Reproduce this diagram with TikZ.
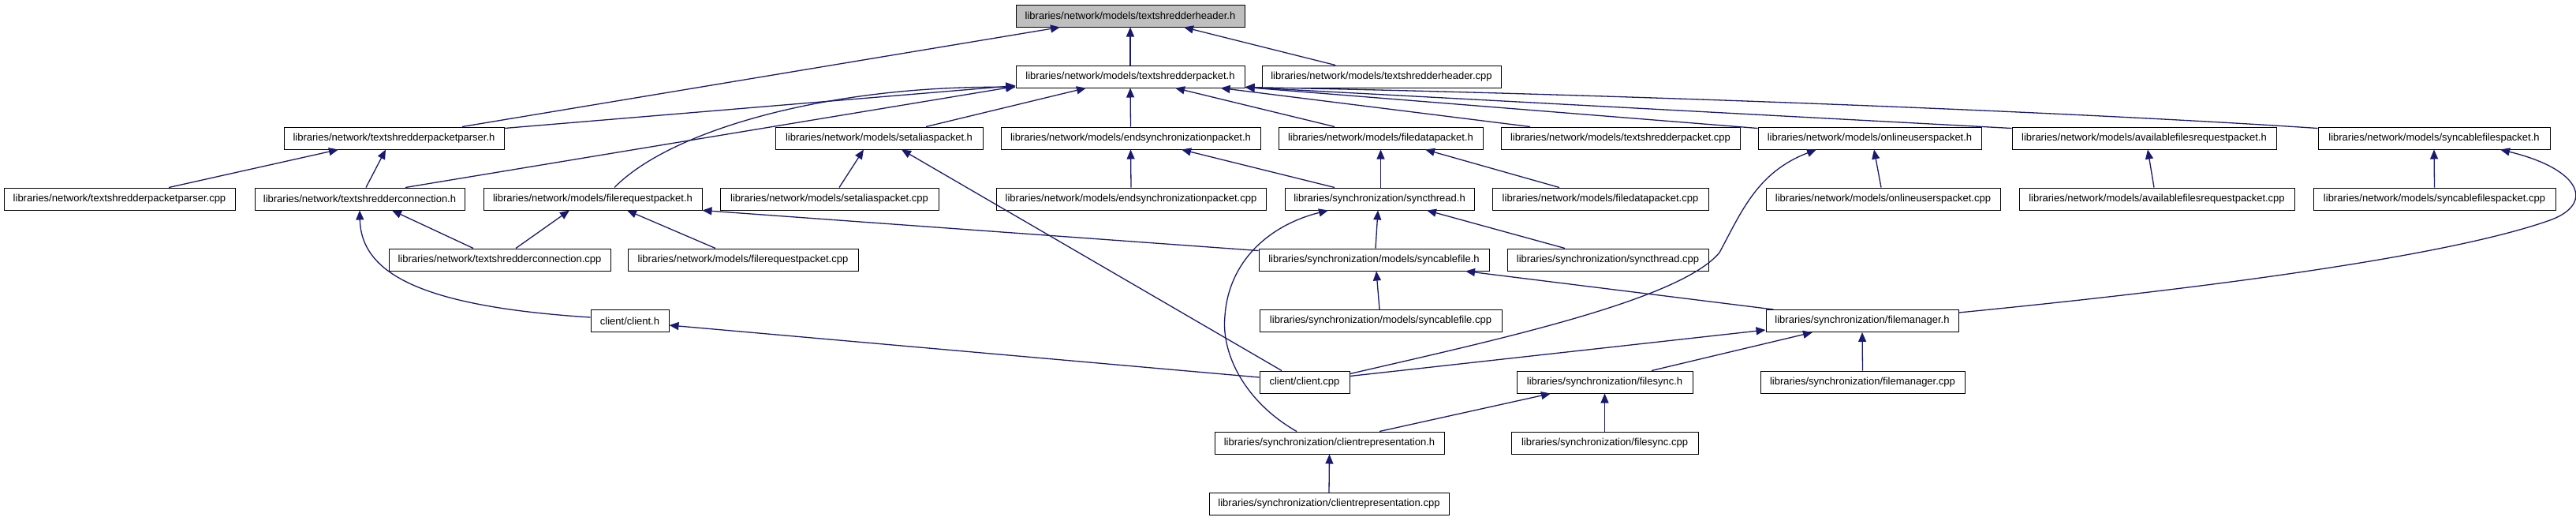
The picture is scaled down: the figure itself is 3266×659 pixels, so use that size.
\documentclass[tikz,border=0pt]{standalone}
\usepackage{fontspec}
\setmainfont{Liberation Sans}
\usetikzlibrary{arrows.meta,calc}
\definecolor{edgeblue}{RGB}{25,25,112}
\definecolor{hdrgray}{RGB}{191,191,191}
\begin{document}
\begin{tikzpicture}[x={(0.5pt,0)},y={(0,-0.5pt)},
  box/.style={draw=black,line width=0.5pt,fill=white,rectangle,inner sep=0pt,minimum height=14pt,
    font=\fontsize{6.5}{8}\selectfont},
  dep/.style={draw=edgeblue,line width=0.65pt,-{Triangle[length=6pt,width=5pt]}}]
\useasboundingbox (0,0) rectangle (3266,659);
% row 0
\node[box,fill=hdrgray,minimum width=145pt] (hdr) at (1433,20) {libraries/network/models/textshredderheader.h};
% row 1
\node[box,minimum width=145pt] (pkt) at (1433,97) {libraries/network/models/textshredderpacket.h};
\node[box,minimum width=151.5pt] (hcpp) at (1751.5,97) {libraries/network/models/textshredderheader.cpp};
% row 2
\node[box,minimum width=139.5pt] (parser) at (499.5,175) {libraries/network/textshredderpacketparser.h};
\node[box,minimum width=131.5pt] (setalias) at (1114.5,175) {libraries/network/models/setaliaspacket.h};
\node[box,minimum width=164.5pt] (endsync) at (1433.5,175) {libraries/network/models/endsynchronizationpacket.h};
\node[box,minimum width=129.5pt] (filedata) at (1750.5,175) {libraries/network/models/filedatapacket.h};
\node[box,minimum width=151.5pt] (pktcpp) at (2054.5,175) {libraries/network/models/textshredderpacket.cpp};
\node[box,minimum width=141.5pt] (online) at (2370.5,175) {libraries/network/models/onlineuserspacket.h};
\node[box,minimum width=167.5pt] (avail) at (2718.5,175) {libraries/network/models/availablefilesrequestpacket.h};
\node[box,minimum width=147pt] (syncpk) at (3086,175) {libraries/network/models/syncablefilespacket.h};
% row 3
\node[box,minimum width=146.5pt] (parsercpp) at (151.5,252) {libraries/network/textshredderpacketparser.cpp};
\node[box,minimum width=133pt] (conn) at (456,252) {libraries/network/textshredderconnection.h};
\node[box,minimum width=138.5pt] (filereq) at (751.5,252) {libraries/network/models/filerequestpacket.h};
\node[box,minimum width=138.5pt] (setaliascpp) at (1051.5,252) {libraries/network/models/setaliaspacket.cpp};
\node[box,minimum width=171pt] (endsynccpp) at (1434,252) {libraries/network/models/endsynchronizationpacket.cpp};
\node[box,minimum width=120pt] (syncthread) at (1749,252) {libraries/synchronization/syncthread.h};
\node[box,minimum width=137pt] (filedatacpp) at (2029,252) {libraries/network/models/filedatapacket.cpp};
\node[box,minimum width=148.5pt] (onlinecpp) at (2387.5,252) {libraries/network/models/onlineuserspacket.cpp};
\node[box,minimum width=174.5pt] (availcpp) at (2734.5,252) {libraries/network/models/availablefilesrequestpacket.cpp};
\node[box,minimum width=153.5pt] (syncpkcpp) at (3086.5,252) {libraries/network/models/syncablefilespacket.cpp};
% row 4
\node[box,minimum width=140.5pt] (conncpp) at (633.5,329) {libraries/network/textshredderconnection.cpp};
\node[box,minimum width=146pt] (filereqcpp) at (942,329) {libraries/network/models/filerequestpacket.cpp};
\node[box,minimum width=146pt] (syncablefile) at (1742,329) {libraries/synchronization/models/syncablefile.h};
\node[box,minimum width=127.5pt] (syncthreadcpp) at (2038.5,329) {libraries/synchronization/syncthread.cpp};
% row 5
\node[box,minimum width=49.5pt] (clienth) at (798.5,406.5) {client/client.h};
\node[box,minimum width=153.5pt] (syncablefilecpp) at (1750.5,406.5) {libraries/synchronization/models/syncablefile.cpp};
\node[box,minimum width=122pt] (filemanager) at (2361,406.5) {libraries/synchronization/filemanager.h};
% row 6
\node[box,minimum width=57pt] (clientcpp) at (1654,484) {client/client.cpp};
\node[box,minimum width=111.5pt] (filesync) at (2034.5,484) {libraries/synchronization/filesync.h};
\node[box,minimum width=129.5pt] (filemanagercpp) at (2361.5,484) {libraries/synchronization/filemanager.cpp};
% row 7
\node[box,minimum width=145.5pt] (clientrep) at (1685.5,561) {libraries/synchronization/clientrepresentation.h};
\node[box,minimum width=118.5pt] (filesynccpp) at (2034.5,561) {libraries/synchronization/filesync.cpp};
% row 8
\node[box,minimum width=152pt] (clientrepcpp) at (1685,638.5) {libraries/synchronization/clientrepresentation.cpp};

% edges to textshredderheader.h
\draw[dep] ($(parser.north)+(86.5,0)$) -- ($(hdr.south)+(-89,0)$);
\draw[dep] (pkt.north) -- (hdr.south);
\draw[dep] ($(hcpp.north)+(-58.5,0)$) -- ($(hdr.south)+(68,0)$);
% edges to textshredderpacket.h
\draw[dep] ($(parser.north east)+(0,2)$) -- ($(pkt.south west)+(0,-3)$);
\draw[dep] ($(conn.north)+(58,0)$) -- ($(pkt.south west)+(0,-2)$);
\draw[dep] ($(filereq.north)+(27.5,0)$) .. controls (850,165) and (1050,108) .. ($(pkt.south west)+(0,-1)$);
\draw[dep] ($(setalias.north)+(59.5,0)$) -- ($(pkt.south)+(-56,0)$);
\draw[dep] (endsync.north) -- (pkt.south);
\draw[dep] ($(filedata.north)+(-58.5,0)$) -- ($(pkt.south)+(57,0)$);
\draw[dep] ($(pktcpp.north)+(-114.5,0)$) -- ($(pkt.south east)+(-31,0)$);
\draw[dep] ($(online.north west)+(0,2)$) -- ($(pkt.south east)+(0,-1)$);
\draw[dep] ($(avail.north west)+(0,2)$) -- ($(pkt.south east)+(0,-1)$);
\draw[dep] ($(syncpk.north west)+(0,2)$) .. controls (2600,140) and (2000,118) .. ($(pkt.south east)+(0,-1)$);
% parser
\draw[dep] ($(parsercpp.north)+(62.5,0)$) -- ($(parser.south)+(-70.5,0)$);
\draw[dep] ($(conn.north)+(8,0)$) -- ($(parser.south)+(-10.5,0)$);
% connection
\draw[dep] ($(conncpp.north)+(-33.5,0)$) -- ($(conn.south)+(41,0)$);
\draw[dep] ($(clienth.west)+(0,-4.5)$) .. controls (530,388) and (458,345) .. (conn.south);
% filerequestpacket
\draw[dep] ($(conncpp.north)+(20.5,0)$) -- ($(filereq.south)+(-29.5,0)$);
\draw[dep] ($(filereqcpp.north)+(-35,0)$) -- ($(filereq.south)+(43.5,0)$);
\draw[dep] ($(syncablefile.north west)+(0,3)$) -- (filereq.south east);
% setaliaspacket
\draw[dep] ($(setaliascpp.north)+(12.5,0)$) -- ($(setalias.south)+(-19.5,0)$);
\draw[dep] ($(clientcpp.north)+(-29,0)$) -- ($(setalias.south)+(28.5,0)$);
% endsynchronizationpacket
\draw[dep] (endsynccpp.north) -- (endsync.south);
\draw[dep] ($(syncthread.north)+(-57,0)$) -- ($(endsync.south)+(64.5,0)$);
% filedatapacket
\draw[dep] ($(syncthread.north)+(1.5,0)$) -- (filedata.south);
\draw[dep] ($(filedatacpp.north)+(-52,0)$) -- ($(filedata.south)+(56.5,0)$);
% syncthread
\draw[dep] ($(syncablefile.north)+(2,0)$) -- ($(syncthread.south)+(-2,0)$);
\draw[dep] ($(syncthreadcpp.north)+(-54.5,0)$) -- ($(syncthread.south)+(60,0)$);
\draw[dep] ($(clientrep.north)+(-41.5,0)$) .. controls (1580,510) and (1548,450) .. (1553,400)
  .. controls (1558,330) and (1610,285) .. ($(syncthread.south)+(-65,0)$);
% onlineuserspacket
\draw[dep] ($(clientcpp.north east)+(0,4)$) .. controls (1900,430) and (2130,380) .. (2180,320)
  .. controls (2208,268) and (2228,218) .. ($(online.south)+(-67.5,0)$);
\draw[dep] ($(onlinecpp.north)+(-2.5,0)$) -- ($(online.south)+(5.5,0)$);
% availablefilesrequestpacket
\draw[dep] ($(availcpp.north)+(-3.5,0)$) -- ($(avail.south)+(4.5,0)$);
% syncablefilespacket
\draw[dep] (syncpkcpp.north) -- (syncpk.south);
\draw[dep] ($(filemanager.north east)+(0,4)$) .. controls (2800,365) and (3100,325) .. (3230,280)
  .. controls (3290,260) and (3275,215) .. ($(syncpk.south)+(84,0)$);
% syncablefile
\draw[dep] ($(syncablefilecpp.north)+(-1.5,0)$) -- ($(syncablefile.south)+(3,0)$);
\draw[dep] ($(filemanager.north west)+(10,0)$) -- ($(syncablefile.south)+(116,0)$);
% filemanager
\draw[dep] ($(clientcpp.north east)+(0,7)$) -- ($(filemanager.south west)+(0,-3)$);
\draw[dep] ($(filesync.north)+(59.5,0)$) -- ($(filemanager.south)+(-63,0)$);
\draw[dep] (filemanagercpp.north) -- (filemanager.south);
% client.h
\draw[dep] ($(clientcpp.west)+(0,-6)$) -- ($(clienth.east)+(0,5.5)$);
% filesync
\draw[dep] ($(clientrep.north)+(63.5,0)$) -- ($(filesync.south)+(-68.5,0)$);
\draw[dep] (filesynccpp.north) -- (filesync.south);
% clientrepresentation
\draw[dep] (clientrepcpp.north) -- (clientrep.south);
\end{tikzpicture}
\end{document}
